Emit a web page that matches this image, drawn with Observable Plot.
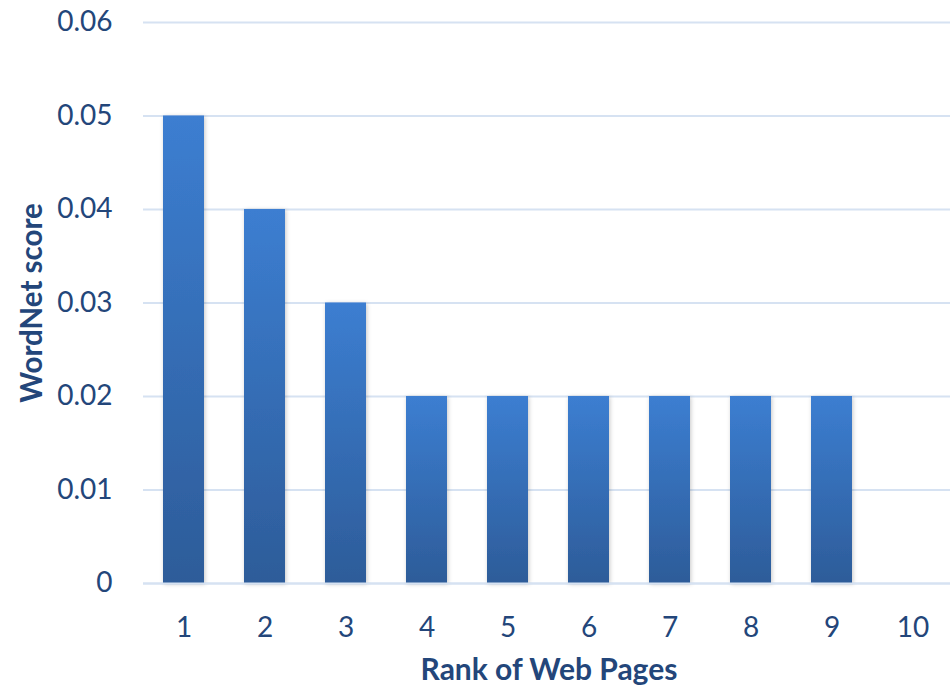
<!DOCTYPE html>
<html>
<head>
<meta charset="utf-8">
<script src="https://cdn.jsdelivr.net/npm/d3@7"></script>
<script src="https://cdn.jsdelivr.net/npm/@observablehq/plot@0.6"></script>
<style>
  html, body { margin: 0; padding: 0; background: #fff; }
  #chart { width: 950px; height: 689px; }
</style>
</head>
<body>
<div id="chart"></div>
<script>
const ranks = ["1", "2", "3", "4", "5", "6", "7", "8", "9", "10"];
const scores = [0.05, 0.04, 0.03, 0.02, 0.02, 0.02, 0.02, 0.02, 0.02, 0];
const yTicks = [0, 0.01, 0.02, 0.03, 0.04, 0.05, 0.06];
const xTitle = "Rank of Web Pages";
const yTitle = "WordNet score";

const data = ranks.map((r, i) => ({rank: r, score: scores[i]}));
const textColor = "#23467a";
const gridColor = "#d6e2f2";
const font = "Lato, 'Open Sans', sans-serif";

const chart = Plot.plot({
  width: 950,
  height: 689,
  marginLeft: 143,
  marginRight: 0,
  marginTop: 22,
  marginBottom: 106,
  style: {fontFamily: font, background: "#fff", overflow: "visible"},
  x: {domain: ranks, range: [143, 954], paddingInner: 0.49, paddingOuter: 0.245, label: null},
  y: {domain: [0, 0.06], label: null},
  marks: [
    Plot.gridY(yTicks, {stroke: gridColor, strokeOpacity: 1, strokeWidth: 2}),
    Plot.barY(data, {x: "rank", y: "score", fill: "url(#barGrad)", filter: d => d.score > 0}),
    Plot.ruleY([0], {stroke: gridColor, strokeWidth: 2}),
    Plot.axisY(yTicks, {
      tickSize: 0, tickPadding: 31,
      tickFormat: d => d === 0 ? "0" : d.toFixed(2),
      fontSize: 28, fill: textColor, label: null
    }),
    Plot.axisX({
      tickSize: 0, tickPadding: 34, fontSize: 28, fill: textColor, label: null
    }),
    Plot.text([yTitle], {
      frameAnchor: "left", dx: -111, rotate: -90, textAnchor: "middle", text: d => d,
      fontSize: 29.5, fontWeight: "bold", fill: textColor
    }),
    Plot.text([xTitle], {
      x: () => "5", dx: 41, frameAnchor: "bottom", dy: 96, text: d => d,
      fontSize: 30, fontWeight: "bold", fill: textColor
    })
  ]
});

const ns = "http://www.w3.org/2000/svg";
const defs = document.createElementNS(ns, "defs");
defs.innerHTML = `
  <linearGradient id="barGrad" x1="0" y1="0" x2="0" y2="1">
    <stop offset="0" stop-color="#3c7ed1"/>
    <stop offset="1" stop-color="#2d5c99"/>
  </linearGradient>
  <filter id="shadow" x="-20%" y="-5%" width="140%" height="110%">
    <feDropShadow dx="1" dy="1" stdDeviation="2" flood-color="#000" flood-opacity="0.22"/>
  </filter>`;
chart.insertBefore(defs, chart.firstChild);
chart.querySelectorAll("rect").forEach(r => {
  if (r.getAttribute("fill") === "url(#barGrad)" || (r.parentNode && r.parentNode.getAttribute("fill") === "url(#barGrad)")) {
    r.setAttribute("filter", "url(#shadow)");
  }
});
document.getElementById("chart").appendChild(chart);
</script>
</body>
</html>
